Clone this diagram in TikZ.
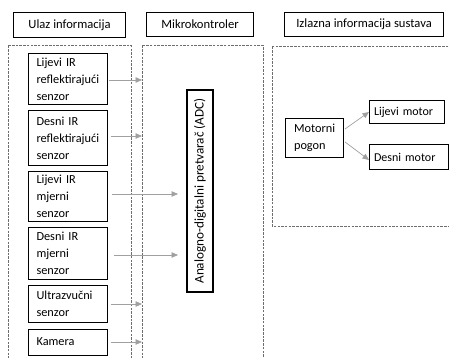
\documentclass[tikz,border=0pt]{standalone}
\usepackage{fontspec}
\setmainfont{Carlito}
\usetikzlibrary{arrows.meta}
\definecolor{dashgray}{RGB}{110,110,110}
\definecolor{arrgray}{RGB}{160,160,160}
\tikzset{
  titlebox/.style={draw=black, line width=1.1pt, anchor=north west, font=\fontsize{12.6}{14}\selectfont, inner sep=0pt, align=center},
  sensor/.style={draw=black, line width=1.1pt, anchor=north west, font=\fontsize{12.3}{17}\selectfont, inner xsep=8.5pt, inner ysep=0pt, align=left, text width=62pt},
  container/.style={draw=dashgray, dash pattern=on 2.5pt off 1.2pt, line width=0.7pt},
  conn/.style={draw=arrgray, line width=0.7pt, -{Triangle[length=6.5pt,width=5.5pt]}},
}
\begin{document}
\begin{tikzpicture}[x=1pt,y=-1pt]
\useasboundingbox (0,0) rectangle (449,358);
\begin{scope}
\clip (0,0) rectangle (449,358);
% containers
\draw[container] (8.5,45.5) rectangle (131,370);
\draw[container] (142,45.5) rectangle (263,370);
\draw[container] (272,46.5) rectangle (460,226);
% titles
\node[titlebox, minimum width=112pt, minimum height=25pt] (t1) at (13,12) {Ulaz informacija};
\node[titlebox, minimum width=107pt, minimum height=24pt] (t2) at (146,12) {Mikrokontroler};
\node[titlebox, minimum width=159pt, minimum height=24pt] (t3) at (284,12) {Izlazna informacija sustava};
% sensors
\node[sensor, minimum height=51pt] (s1) at (27.5,53) {Lijevi IR\\reflektirajući\\senzor};
\node[sensor, minimum height=55pt] (s2) at (27.5,110) {Desni IR\\reflektirajući\\senzor};
\node[sensor, minimum height=50pt] (s3) at (27.5,171) {Lijevi IR\\mjerni\\senzor};
\node[sensor, minimum height=52pt] (s4) at (27.5,227) {Desni IR\\mjerni\\senzor};
\node[sensor, minimum height=37pt] (s5) at (27.5,285) {Ultrazvučni\\senzor};
\node[sensor, minimum height=26pt] (s6) at (27.5,328.5) {Kamera};
% ADC
\node[draw=black, line width=1.1pt, minimum width=202pt, minimum height=26pt, inner sep=0pt, rotate=90, font=\fontsize{13.2}{15}\selectfont] (adc) at (200,191) {Analogno-digitalni pretvarač (ADC)};
% motors
\node[draw=black, line width=1.1pt, anchor=north west, minimum width=58pt, minimum height=39pt, text width=41pt, align=left, inner xsep=8pt, inner ysep=0pt, font=\fontsize{12.3}{17}\selectfont] (mp) at (285,118) {Motorni\\pogon};
\node[draw=black, line width=1.1pt, anchor=north west, minimum width=75pt, minimum height=23pt, text width=66pt, align=left, inner xsep=4.5pt, inner ysep=0pt, font=\fontsize{12}{14}\selectfont] (lm) at (369,100) {Lijevi motor};
\node[draw=black, line width=1.1pt, anchor=north west, minimum width=79pt, minimum height=25pt, text width=70pt, align=left, inner xsep=4.5pt, inner ysep=0pt, font=\fontsize{12}{14}\selectfont] (dm) at (369,144) {Desni motor};
% coordinates
\coordinate (e1) at (142,80);
\coordinate (e2) at (142,136);
\coordinate (e5) at (142,304);
\coordinate (e6) at (142,342);
\coordinate (e3) at (178,194);
\coordinate (e4) at (178,255);
% connectors
\draw[conn] (s1.east |- e1) ++(1,0) -- (e1);
\draw[conn] (s2.east |- e2) ++(3,0) -- (e2);
\draw[conn] (s3.east |- e3) ++(4,0) -- (e3);
\draw[conn] (s4.east |- e4) ++(6,0) -- (e4);
\draw[conn] (s5.east |- e5) ++(3,0) -- (e5);
\draw[conn] (s6.east |- e6) ++(3,0) -- (e6);
\draw[conn] (345,129) -- (lm.west |- 0,112);
\draw[conn] (345,142) -- (dm.west |- 0,160);
\end{scope}
\end{tikzpicture}
\end{document}
